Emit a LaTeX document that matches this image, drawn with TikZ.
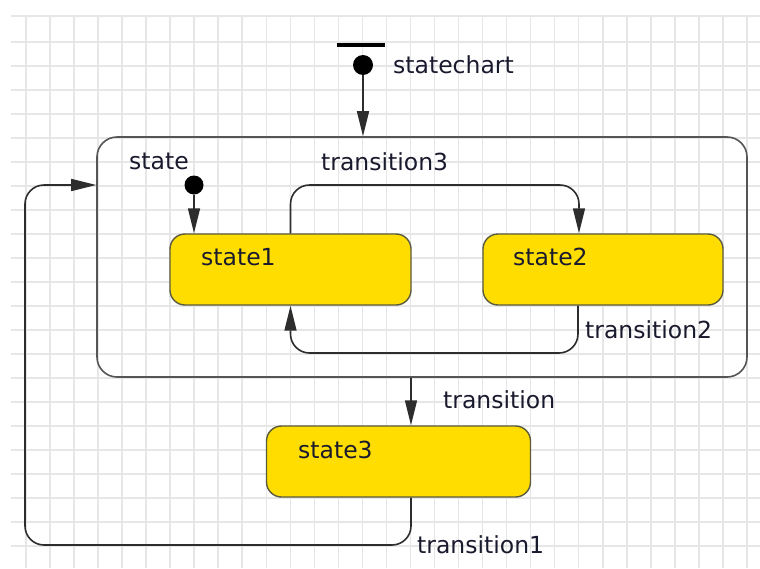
\documentclass[tikz,border=0pt]{standalone}
\usepackage{fontspec}
\setmainfont{DejaVu Sans}
\usetikzlibrary{arrows.meta}
\definecolor{stfill}{RGB}{255,221,0}
\definecolor{stborder}{RGB}{90,90,60}
\definecolor{boxborder}{RGB}{85,85,85}
\definecolor{lncol}{RGB}{45,45,45}
\definecolor{txtcol}{RGB}{26,26,46}
\definecolor{gridcol}{RGB}{230,230,230}
\tikzset{
  gridline/.style={draw=gridcol, line width=1.6pt},
  compound/.style={draw=boxborder, line width=1.6pt, rounded corners=20pt, inner sep=0pt},
  simple/.style={draw=stborder, fill=stfill, line width=1.4pt, rounded corners=15pt, inner sep=0pt},
  lbl/.style={anchor=base west, inner sep=0pt, text=txtcol, font=\fontsize{23.5}{27}\selectfont},
  initdot/.style={circle, fill=black, inner sep=0pt},
  initbar/.style={rectangle, fill=black, inner sep=0pt, minimum width=48pt, minimum height=4pt},
  conn/.style={draw=lncol, line width=1.6pt, -{Triangle[length=25pt,width=12pt]}},
  rc/.style={rounded corners=19pt}
}
\begin{document}
\begin{tikzpicture}[x=1pt,y=-1pt]
\useasboundingbox (0,0) rectangle (760,568);
\fill[white] (0,0) rectangle (760,568);
% grid
\foreach \i in {0,...,30} \draw[gridline] ({26+24.03*\i},15) -- ({26+24.03*\i},568);
\foreach \j in {0,...,21} \draw[gridline] (11,{42+24*\j}) -- (760,{42+24*\j});
\draw[gridline] (11,16) -- (760,16);
% nodes
\node[compound, minimum width=650pt, minimum height=240pt] (st) at (422,257) {};
\node[simple, minimum width=241pt, minimum height=71pt] (s1) at (290.5,269.5) {};
\node[simple, minimum width=240pt, minimum height=71pt] (s2) at (603,269.5) {};
\node[simple, minimum width=264pt, minimum height=71pt] (s3) at (398.5,461.5) {};
\node[initbar] (b0) at (361,45) {};
\node[initdot, minimum size=20pt] (i0) at (363,65) {};
\node[initdot, minimum size=19pt] (i1) at (194,185) {};
% labels
\node[lbl] (ls) at (393,73) {statechart};
\node[lbl] (lst) at (129,169) {state};
\node[lbl] (lt3) at (321,170) {transition3};
\node[lbl] (lt2) at (585,338) {transition2};
\node[lbl] (lt) at (443,408) {transition};
\node[lbl] (lt1) at (417,553) {transition1};
\node[lbl] (l1) at (201,265) {state1};
\node[lbl] (l2) at (513,265) {state2};
\node[lbl] (l3) at (298,458) {state3};
% helper coordinates
\coordinate (yT3) at (0,185);
\coordinate (yT2) at (0,353);
\coordinate (yT1) at (0,545);
\coordinate (xT1) at (25,0);
\coordinate (xT) at (411,0);
\coordinate (s2a) at ([xshift=-24pt]s2.north);
\coordinate (s2b) at ([xshift=-25pt]s2.south);
% connectors
\draw[conn] (i0) -- (i0 |- st.north);
\draw[conn] (i1) -- (i1 |- s1.north);
\draw[conn, rc] (s1.north) -- (s1.north |- yT3) -- (s2a |- yT3) -- (s2a);
\draw[conn, rc] (s2b) -- (s2b |- yT2) -- (s1.south |- yT2) -- (s1.south);
\draw[conn] (st.south -| xT) -- (s3.north -| xT);
\draw[conn, rc] (s3.south -| xT) -- (xT |- yT1) -- (xT1 |- yT1) -- (xT1 |- yT3) -- (st.west |- yT3);
\end{tikzpicture}
\end{document}
